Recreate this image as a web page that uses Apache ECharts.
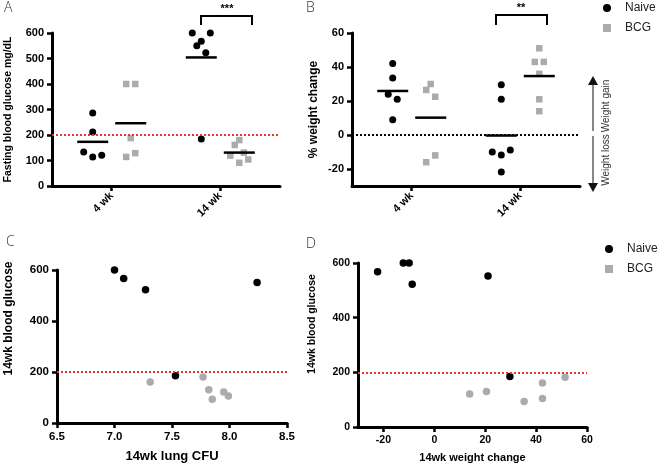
<!DOCTYPE html>
<html>
<head>
<meta charset="utf-8">
<script src="https://cdn.jsdelivr.net/npm/echarts@6/dist/echarts.min.js"></script>
<style>
html,body{margin:0;padding:0;background:#fff;}
#chart{width:660px;height:467px;}
</style>
</head>
<body>
<div id="chart"></div>
<script>
// ---- Data ----
const categories = ['4 wk', '14 wk'];
const seriesNames = ['Naive', 'BCG'];

// Panel A: fasting blood glucose (mg/dL)
const glucoseNaive4 = [286, 212, 133, 114, 121];
const glucoseBCG4 = [400, 400, 188, 114, 129];
const glucoseNaive14 = [600, 600, 568, 550, 523, 184];
const glucoseBCG14 = [180, 161, 131, 119, 91, 104];

// Panel B: % weight change
const weightNaive4 = [42, 33.5, 24, 21, 9];
const weightBCG4 = [30, 26.5, 22.5, -12, -16];
const weightNaive14 = [29.5, 21, -10, -11.8, -8.8, -21.8];
const weightBCG14 = [51, 43, 43, 36, 21, 14];

// Panel C: 14wk lung CFU vs 14wk blood glucose
const cfuNaive = [7.0, 7.08, 7.27, 7.53, 8.24];
const cfuGlucoseNaive = [600, 567, 523, 185, 551];
const cfuBCG = [7.31, 7.77, 7.82, 7.85, 7.95, 7.99];
const cfuGlucoseBCG = [161, 180, 130, 93, 122, 106];

// Panel D: 14wk weight change vs 14wk blood glucose
const wcNaive = [-22.3, -12.2, -9.9, -8.7, 21.1, 29.7];
const wcGlucoseNaive = [568, 600, 600, 522, 552, 185];
const wcBCG = [13.9, 20.5, 35.3, 42.5, 42.5, 51.4];
const wcGlucoseBCG = [121, 130, 93, 161, 104, 182];

// Reference lines
const glucoseThreshold = 200;
const weightReference = 0;

// Tick labels
const glucoseTicksA = [0, 100, 200, 300, 400, 500, 600];
const weightTicksB = [-20, 0, 20, 40, 60];
const glucoseTicksCD = [0, 200, 400, 600];
const cfuTicks = [6.5, 7.0, 7.5, 8.0, 8.5];
const wcTicks = [-20, 0, 20, 40, 60];

// ---- Dot-plot layout helpers (offsets, not data) ----
const groupOffset = 0.175;
const jitterStep = 0.083;
const jitA_N4 = [0, 0, -1, 0, 1];
const jitA_B4 = [-0.5, 0.5, 0, -0.5, 0.5];
const jitA_N14 = [-1, 1, 0, -0.5, 0.5, 0];
const jitA_B14 = [0, -0.5, 0.5, -1, 0, 1];
const jitB_N4 = [0, 0, -0.5, 0.5, 0];
const jitB_B4 = [0, -0.5, 0.5, 0.5, -0.5];
const jitB_N14 = [0, 0, -1, 0, 1, 0];
const jitB_B14 = [0, -0.5, 0.5, 0, 0, 0];

function dots(values, catIndex, side, jit) {
  return values.map((v, i) => [catIndex + side * groupOffset + jit[i] * jitterStep, v]);
}
function mean(a) { return a.reduce((s, v) => s + v, 0) / a.length; }
function meanPt(values, catIndex, side) { return [catIndex + side * groupOffset, mean(values)]; }
function pairs(xs, ys) { return xs.map((x, i) => [x, ys[i]]); }

const FONT = '"Liberation Sans", Arial, Helvetica, sans-serif';
const BLACK = '#000';
const GRAY = '#ababab';
const RED = '#e2372b';

function makeAxis(o) {
  return {
    type: 'value',
    gridIndex: o.grid,
    min: o.min, max: o.max,
    interval: o.interval,
    name: o.name || '',
    nameLocation: 'middle',
    nameGap: o.nameGap || 0,
    nameTextStyle: { color: BLACK, fontFamily: FONT, fontWeight: 'bold', fontSize: o.nameSize || 11, padding: o.namePad || 0 },
    axisLine: { show: true, onZero: false, lineStyle: { color: BLACK, width: 3 } },
    axisTick: { show: true, length: 5, customValues: o.ticks, lineStyle: { color: BLACK, width: 2.5 } },
    splitLine: { show: false },
    axisLabel: { show: true, customValues: o.ticks, rotate: o.rotate || 0, formatter: o.formatter,
      color: BLACK, fontFamily: FONT, fontWeight: 'bold', fontSize: o.labelSize || 11, margin: o.margin || 8 }
  };
}

const grids = [
  { left: 52, top: 33, width: 228, height: 153 },
  { left: 352, top: 33, width: 228, height: 153 },
  { left: 57, top: 270, width: 230, height: 153 },
  { left: 358, top: 263, width: 229, height: 164 }
];

const catFormatter = v => categories[Math.round(v)];

const xAxes = [
  makeAxis({ grid: 0, min: -0.55, max: 1.55, ticks: [0, 1], rotate: 45, formatter: catFormatter, labelSize: 11 }),
  makeAxis({ grid: 1, min: -0.55, max: 1.55, ticks: [0, 1], rotate: 45, formatter: catFormatter, labelSize: 11 }),
  makeAxis({ grid: 2, min: 6.5, max: 8.5, interval: 0.5, ticks: cfuTicks, formatter: v => v.toFixed(1),
    labelSize: 11.5, name: '14wk lung CFU', nameGap: 27, nameSize: 13 }),
  makeAxis({ grid: 3, min: -30, max: 60, interval: 10, ticks: wcTicks, labelSize: 10.5,
    name: '14wk weight change', nameGap: 25, nameSize: 11 })
];

const yAxes = [
  makeAxis({ grid: 0, min: 0, max: 600, interval: 100, ticks: glucoseTicksA, labelSize: 11,
    name: 'Fasting blood glucose mg/dL', nameGap: 38, nameSize: 10.5 }),
  makeAxis({ grid: 1, min: -30, max: 60, interval: 10, ticks: weightTicksB, labelSize: 11,
    name: '% weight change', nameGap: 32, nameSize: 12 }),
  makeAxis({ grid: 2, min: 0, max: 600, interval: 200, ticks: glucoseTicksCD, labelSize: 11.5,
    name: '14wk blood glucose', nameGap: 42, nameSize: 12, namePad: [0, 0, 0, 56] }),
  makeAxis({ grid: 3, min: 0, max: 600, interval: 200, ticks: glucoseTicksCD, labelSize: 10.5,
    name: '14wk blood glucose', nameGap: 40, nameSize: 10.5, namePad: [0, 0, 0, 42] })
];

function refLine(value, color) {
  return {
    silent: true, symbol: 'none', label: { show: false },
    lineStyle: { color: color, width: 2, type: [2, 2] },
    emphasis: { disabled: true },
    data: [{ yAxis: value }]
  };
}

const series = [
  // Panel A
  { type: 'scatter', name: 'Naive', xAxisIndex: 0, yAxisIndex: 0, z: 3, symbol: 'circle', symbolSize: 7,
    itemStyle: { color: BLACK, opacity: 1 },
    data: dots(glucoseNaive4, 0, -1, jitA_N4).concat(dots(glucoseNaive14, 1, -1, jitA_N14)) },
  { type: 'scatter', name: 'BCG', xAxisIndex: 0, yAxisIndex: 0, z: 3, symbol: 'rect', symbolSize: 6.5,
    itemStyle: { color: GRAY, opacity: 1 },
    data: dots(glucoseBCG4, 0, 1, jitA_B4).concat(dots(glucoseBCG14, 1, 1, jitA_B14)) },
  { type: 'scatter', name: 'meanA', xAxisIndex: 0, yAxisIndex: 0, z: 4, silent: true,
    symbol: 'rect', symbolSize: [31, 2.5], itemStyle: { color: BLACK, opacity: 1 },
    data: [meanPt(glucoseNaive4, 0, -1), meanPt(glucoseBCG4, 0, 1), meanPt(glucoseNaive14, 1, -1), meanPt(glucoseBCG14, 1, 1)],
    markLine: refLine(glucoseThreshold, RED) },
  // Panel B
  { type: 'scatter', name: 'Naive', xAxisIndex: 1, yAxisIndex: 1, z: 3, symbol: 'circle', symbolSize: 7,
    itemStyle: { color: BLACK, opacity: 1 },
    data: dots(weightNaive4, 0, -1, jitB_N4).concat(dots(weightNaive14, 1, -1, jitB_N14)) },
  { type: 'scatter', name: 'BCG', xAxisIndex: 1, yAxisIndex: 1, z: 3, symbol: 'rect', symbolSize: 6.5,
    itemStyle: { color: GRAY, opacity: 1 },
    data: dots(weightBCG4, 0, 1, jitB_B4).concat(dots(weightBCG14, 1, 1, jitB_B14)) },
  { type: 'scatter', name: 'meanB', xAxisIndex: 1, yAxisIndex: 1, z: 4, silent: true,
    symbol: 'rect', symbolSize: [31, 2.5], itemStyle: { color: BLACK, opacity: 1 },
    data: [meanPt(weightNaive4, 0, -1), meanPt(weightBCG4, 0, 1), meanPt(weightNaive14, 1, -1), meanPt(weightBCG14, 1, 1)],
    markLine: refLine(weightReference, BLACK) },
  // Panel C
  { type: 'scatter', name: 'Naive', xAxisIndex: 2, yAxisIndex: 2, z: 3, symbol: 'circle', symbolSize: 7.5,
    itemStyle: { color: BLACK, opacity: 1 }, data: pairs(cfuNaive, cfuGlucoseNaive),
    markLine: refLine(glucoseThreshold, RED) },
  { type: 'scatter', name: 'BCG', xAxisIndex: 2, yAxisIndex: 2, z: 3, symbol: 'circle', symbolSize: 7.5,
    itemStyle: { color: GRAY, opacity: 1 }, data: pairs(cfuBCG, cfuGlucoseBCG) },
  // Panel D
  { type: 'scatter', name: 'Naive', xAxisIndex: 3, yAxisIndex: 3, z: 3, symbol: 'circle', symbolSize: 7.5,
    itemStyle: { color: BLACK, opacity: 1 }, data: pairs(wcNaive, wcGlucoseNaive),
    markLine: refLine(glucoseThreshold, RED) },
  { type: 'scatter', name: 'BCG', xAxisIndex: 3, yAxisIndex: 3, z: 3, symbol: 'circle', symbolSize: 7.5,
    itemStyle: { color: GRAY, opacity: 1 }, data: pairs(wcBCG, wcGlucoseBCG) }
];

function legendAt(left, top) {
  return {
    orient: 'vertical', left: left, top: top, itemWidth: 8, itemHeight: 8, itemGap: 8,
    selectedMode: false,
    textStyle: { color: '#222', fontFamily: FONT, fontSize: 12, padding: [0, 0, 0, 9] },
    data: [{ name: seriesNames[0], icon: 'circle' }, { name: seriesNames[1], icon: 'rect' }]
  };
}

const letterStyle = (t) => ({ text: t, fill: '#333', fontFamily: '"Open Sans", "DejaVu Sans", sans-serif', fontSize: 14, fontWeight: 300 });
const bracketStyle = { stroke: BLACK, lineWidth: 2, fill: null };
const smallText = (t) => ({ text: t, fill: '#333', fontFamily: FONT, fontSize: 10, align: 'center', verticalAlign: 'middle' });

const graphic = [
  { type: 'text', left: 4, top: 1, style: letterStyle('A') },
  { type: 'text', left: 306, top: 1, style: letterStyle('B') },
  { type: 'text', left: 6, top: 235, style: letterStyle('C') },
  { type: 'text', left: 306, top: 237, style: letterStyle('D') },
  { type: 'polyline', shape: { points: [[201, 25], [201, 16], [252, 16], [252, 25]] }, style: bracketStyle },
  { type: 'text', x: 227, y: 9, style: { text: '***', fill: BLACK, fontFamily: FONT, fontSize: 11, fontWeight: 'bold', align: 'center', verticalAlign: 'middle' } },
  { type: 'polyline', shape: { points: [[496, 25], [496, 15], [547, 15], [547, 25]] }, style: bracketStyle },
  { type: 'text', x: 521, y: 8, style: { text: '**', fill: BLACK, fontFamily: FONT, fontSize: 11, fontWeight: 'bold', align: 'center', verticalAlign: 'middle' } },
  { type: 'line', shape: { x1: 593, y1: 84, x2: 593, y2: 131 }, style: { stroke: '#111', lineWidth: 1 } },
  { type: 'line', shape: { x1: 593, y1: 136, x2: 593, y2: 184 }, style: { stroke: '#111', lineWidth: 1 } },
  { type: 'polygon', shape: { points: [[593, 76], [588, 85], [598, 85]] }, style: { fill: '#111' } },
  { type: 'polygon', shape: { points: [[593, 192], [588, 183], [598, 183]] }, style: { fill: '#111' } },
  { type: 'text', x: 606, y: 106, rotation: Math.PI / 2, style: smallText('Weight gain') },
  { type: 'text', x: 606, y: 160, rotation: Math.PI / 2, style: smallText('Weight loss') }
];

const chart = echarts.init(document.getElementById('chart'));
chart.setOption({
  animation: false,
  backgroundColor: '#fff',
  grid: grids,
  xAxis: xAxes,
  yAxis: yAxes,
  legend: [legendAt(598, -3), legendAt(600, 238)],
  series: series,
  graphic: graphic
});
</script>
</body>
</html>
